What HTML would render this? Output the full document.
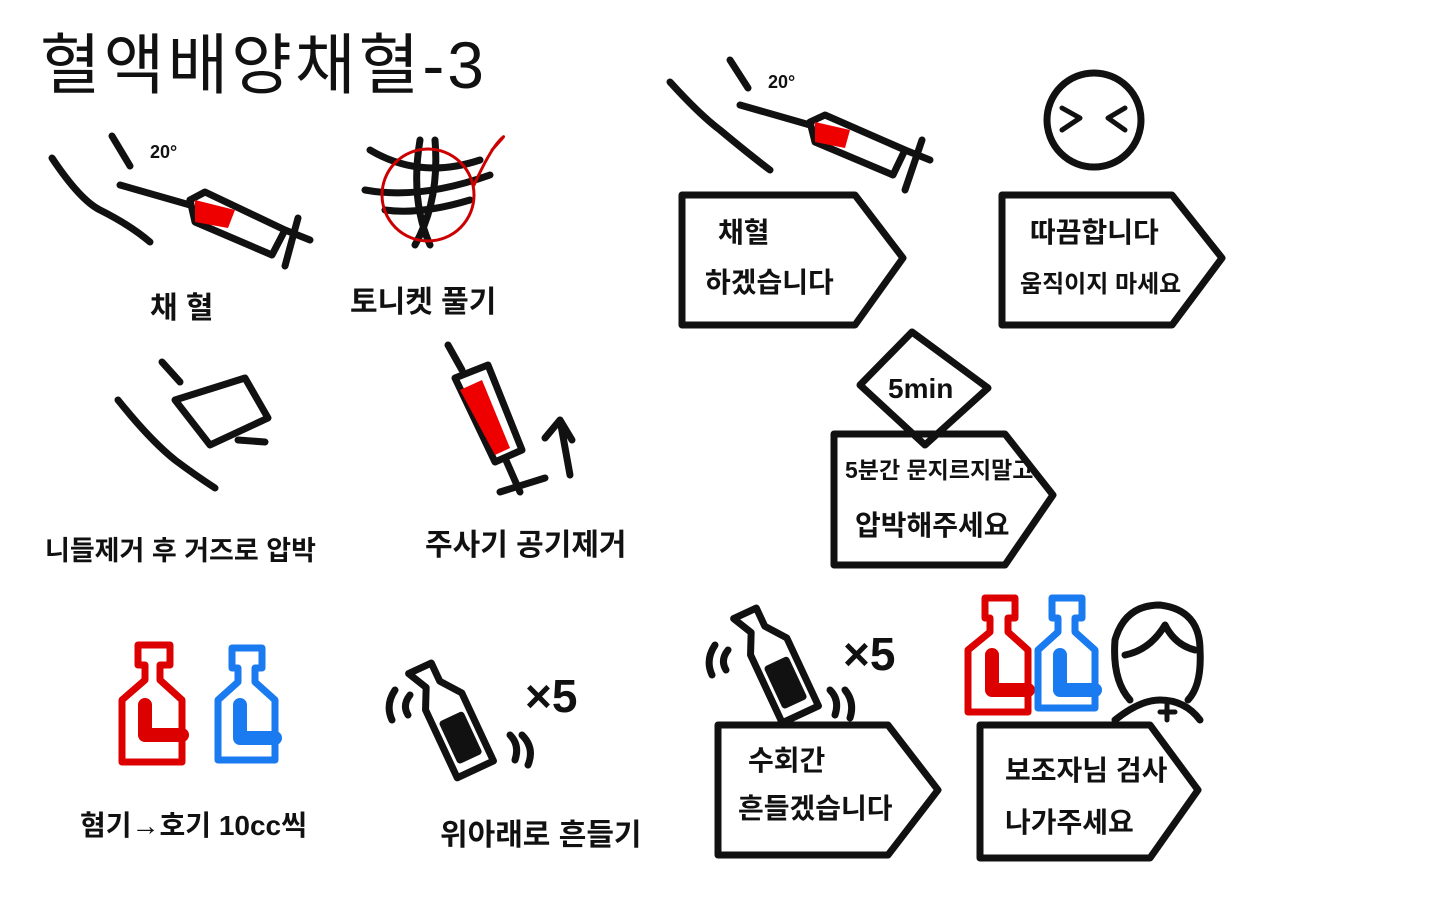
<!DOCTYPE html>
<html><head><meta charset="utf-8"><style>
html,body{margin:0;padding:0;background:#fff;}
svg{display:block}
text{font-family:"Liberation Sans","Noto Sans CJK KR","NanumGothic",sans-serif;fill:#111;}
.b{font-weight:bold}
</style></head><body>
<svg width="1440" height="900" viewBox="0 0 1440 900" xmlns="http://www.w3.org/2000/svg">
<rect width="1440" height="900" fill="#fff"/>
<g stroke="#111" stroke-width="7" fill="none" stroke-linecap="round" stroke-linejoin="round">
<path d="M52,158 Q80,200 100,210 Q130,225 150,242"/>
<path d="M112,136 L130,166"/>
<path d="M120,185 L190,205"/>
<path d="M190,200 L205,192 L285,230 L272,255 L195,222 Z" fill="#fff"/>
<path d="M285,230 L310,240 M298,218 L285,266"/>
<path d="M195,200 L235,210 L228,228 L195,222 Z" fill="#e00" stroke="none"/>
<path d="M370,150 Q420,180 480,160 M365,190 Q420,200 490,175 M385,210 Q420,215 470,200 M420,140 Q410,200 430,245 M435,140 Q440,200 415,245"/>
<circle cx="428" cy="195" r="46" stroke="#c00" stroke-width="3"/>
<path d="M474,185 Q490,150 500,140 Q510,130 492,150" stroke="#c00" stroke-width="3"/>
<path d="M118,400 Q150,440 175,460 Q195,475 215,488"/>
<path d="M162,362 L180,382"/>
<path d="M175,400 L245,378 L268,418 L210,445 Z"/>
<path d="M238,440 L265,442"/>
<path d="M448,345 L462,370"/>
<path d="M455,378 L488,365 L522,450 L495,462 Z" fill="#fff"/>
<path d="M460,390 L482,380 L510,448 L495,455 Z" fill="#e00" stroke="none"/>
<path d="M505,458 L520,492 M500,492 L545,478"/>
<path d="M570,475 L560,420 M545,438 L560,420 L572,440"/>
<path d="M138,645 L170,645 L170,665 L160,665 L160,680 L182,700 L182,762 L122,762 L122,700 L145,680 L145,665 L138,665 Z" stroke="#d00"/>
<path d="M145,705 L145,735 L182,735" stroke="#d00" stroke-width="14"/>
<path d="M232,648 L262,648 L262,668 L255,668 L255,682 L275,700 L275,760 L218,760 L218,700 L238,682 L238,668 L232,668 Z" stroke="#1a7aef"/>
<path d="M240,705 L240,738 L275,738" stroke="#1a7aef" stroke-width="14"/>
<g transform="rotate(-25 450 715)">
<path d="M430,660 L455,660 L455,680 L470,700 L470,775 L430,775 L430,700 L440,680 Z"/>
<rect x="440" y="720" width="20" height="40" fill="#111"/>
</g>
<path d="M395,690 Q385,705 392,720 M410,695 Q402,705 408,715 M510,735 Q520,745 515,760 M522,735 Q535,748 528,765"/>
<path d="M670,82 Q700,115 720,130 Q750,155 770,170"/>
<path d="M730,60 L748,88"/>
<path d="M740,105 L810,125"/>
<path d="M810,122 L825,115 L905,150 L893,175 L815,142 Z" fill="#fff"/>
<path d="M905,150 L930,160 M922,140 L905,190"/>
<path d="M815,122 L850,130 L845,148 L815,142 Z" fill="#e00" stroke="none"/>
<circle cx="1094" cy="120" r="47"/>
<path d="M1062,108 L1080,118 L1062,130 M1125,108 L1108,118 L1125,130" stroke-width="5"/>
<path d="M682,195 L855,195 L903,258 L855,325 L682,325 Z"/>
<path d="M1002,195 L1172,195 L1222,258 L1172,325 L1002,325 Z"/>
<path d="M912,332 L988,388 L925,445 L860,385 Z"/>
<path d="M834,434 L1005,434 L1053,495 L1005,565 L834,565 Z"/>
<path d="M718,725 L888,725 L938,790 L888,855 L718,855 Z"/>
<path d="M980,725 L1150,725 L1198,790 L1150,858 L980,858 Z"/>
<g transform="rotate(-25 775 660)">
<path d="M755,605 L780,605 L780,625 L795,645 L795,720 L755,720 L755,645 L765,625 Z"/>
<rect x="765" y="665" width="20" height="40" fill="#111"/>
</g>
<path d="M715,645 Q705,660 712,675 M728,650 Q720,660 726,670 M830,690 Q840,700 835,715 M845,690 Q855,702 850,718"/>
<path d="M985,598 L1015,598 L1015,618 L1008,618 L1008,632 L1028,650 L1028,712 L968,712 L968,650 L990,632 L990,618 L985,618 Z" stroke="#d00"/>
<path d="M992,655 L992,690 L1028,690" stroke="#d00" stroke-width="14"/>
<path d="M1052,598 L1082,598 L1082,618 L1075,618 L1075,632 L1095,650 L1095,708 L1038,708 L1038,650 L1058,632 L1058,618 L1052,618 Z" stroke="#1a7aef"/>
<path d="M1060,655 L1060,690 L1095,690" stroke="#1a7aef" stroke-width="14"/>
<path d="M1130,700 Q1112,680 1115,640 Q1125,605 1160,605 Q1200,610 1200,650 Q1202,685 1188,700"/>
<path d="M1125,655 Q1150,650 1165,625 Q1175,645 1195,650"/>
<path d="M1115,720 Q1140,700 1160,700 Q1185,700 1200,720"/>
<path d="M1160,712 L1175,712 M1167,704 L1167,720" stroke-width="5"/>
</g>
<text x="40" y="88" font-size="66" letter-spacing="3">혈액배양채혈-3</text>
<text x="150" y="158" font-size="18" class="b">20°</text>
<text x="768" y="88" font-size="18" class="b">20°</text>
<g font-size="30" class="b">
<text x="150" y="318">채 혈</text>
<text x="350" y="312">토니켓 풀기</text>
<text x="45" y="560" font-size="27">니들제거 후 거즈로 압박</text>
<text x="425" y="555">주사기 공기제거</text>
<text x="80" y="835" font-size="28">혐기→호기 10cc씩</text>
<text x="440" y="845">위아래로 흔들기</text>
</g>
<text x="525" y="712" font-size="46" class="b">×5</text>
<text x="843" y="670" font-size="46" class="b">×5</text>
<g font-size="28" class="b">
<text x="718" y="242">채혈</text>
<text x="705" y="292">하겠습니다</text>
<text x="1030" y="242">따끔합니다</text>
<text x="1020" y="292" font-size="24">움직이지 마세요</text>
<text x="888" y="398">5min</text>
<text x="845" y="478" font-size="23">5분간 문지르지말고</text>
<text x="855" y="535">압박해주세요</text>
<text x="748" y="770">수회간</text>
<text x="738" y="818">흔들겠습니다</text>
<text x="1005" y="780">보조자님 검사</text>
<text x="1005" y="832">나가주세요</text>
</g>
</svg>
</body></html>
